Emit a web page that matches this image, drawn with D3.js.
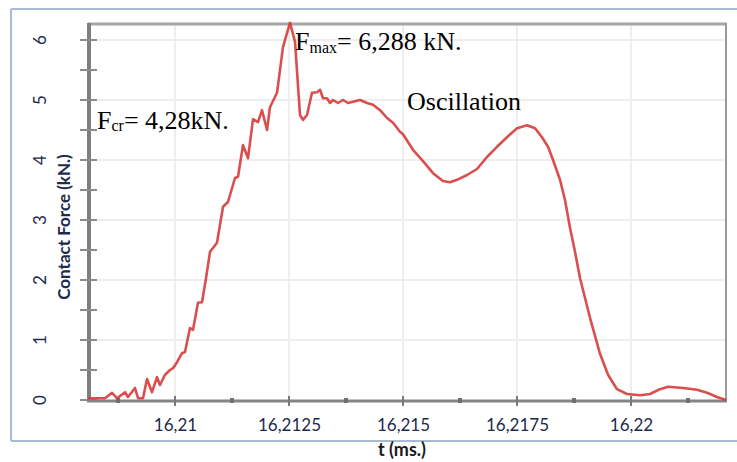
<!DOCTYPE html>
<html>
<head>
<meta charset="utf-8">
<script src="https://cdn.jsdelivr.net/npm/d3@7/dist/d3.min.js"></script>
<style>
  html, body { margin: 0; padding: 0; background: #ffffff; }
  svg { display: block; }
</style>
</head>
<body>
<svg id="chart" width="737" height="462"></svg>
<script>
// Contact force history during impact (time in ms, force in kN)
const timeMs = [
  16.208092, 16.208246, 16.208465, 16.208618, 16.208728, 16.208904, 16.208969, 16.209123,
  16.209189, 16.209298, 16.209386, 16.209496, 16.209605, 16.209671, 16.209781, 16.209890,
  16.209956, 16.210044, 16.210154, 16.210219, 16.210329, 16.210395, 16.210504, 16.210592,
  16.210680, 16.210768, 16.210921, 16.211053, 16.211162, 16.211316, 16.211382, 16.211491,
  16.211601, 16.211711, 16.211820, 16.211908, 16.212018, 16.212083, 16.212237, 16.212368,
  16.212522, 16.212632, 16.212741, 16.212807, 16.212895, 16.213004, 16.213114, 16.213180,
  16.213246, 16.213333, 16.213399, 16.213465, 16.213575, 16.213684, 16.213794, 16.213904,
  16.214057, 16.214211, 16.214342, 16.214496, 16.214649, 16.214781, 16.214934, 16.215000,
  16.215219, 16.215439, 16.215658, 16.215877, 16.216031, 16.216184, 16.216404, 16.216623,
  16.216842, 16.217061, 16.217281, 16.217500, 16.217719, 16.217895, 16.218048, 16.218180,
  16.218290, 16.218443, 16.218553, 16.218662, 16.218772, 16.218882, 16.219101, 16.219320,
  16.219496, 16.219693, 16.219912, 16.220197, 16.220417, 16.220636, 16.220811, 16.221140,
  16.221447, 16.221667, 16.221886, 16.222083
];
const forceKN = [
  0.03, 0.03, 0.03, 0.12, 0.03, 0.13, 0.05, 0.20,
  0.03, 0.03, 0.35, 0.13, 0.38, 0.25, 0.42, 0.50,
  0.53, 0.63, 0.78, 0.80, 1.20, 1.17, 1.62, 1.63,
  2.03, 2.47, 2.62, 3.22, 3.30, 3.70, 3.72, 4.25,
  4.03, 4.68, 4.63, 4.83, 4.50, 4.88, 5.12, 5.88,
  6.288, 5.97, 4.75, 4.67, 4.75, 5.12, 5.13, 5.17,
  5.03, 5.03, 4.95, 5.00, 4.95, 5.00, 4.95, 4.97,
  5.00, 4.95, 4.92, 4.83, 4.70, 4.62, 4.47, 4.43,
  4.17, 3.98, 3.78, 3.65, 3.63, 3.67, 3.75, 3.85,
  4.05, 4.22, 4.38, 4.53, 4.58, 4.53, 4.38, 4.22,
  4.00, 3.67, 3.33, 2.87, 2.47, 2.03, 1.37, 0.77,
  0.42, 0.18, 0.10, 0.08, 0.10, 0.18, 0.22, 0.20,
  0.17, 0.12, 0.05, 0.00
];

const xTickValues = [16.21, 16.2125, 16.215, 16.2175, 16.22];
const xTickLabels = ["16,21", "16,2125", "16,215", "16,2175", "16,22"];
const xMinorTicks = [16.20875, 16.21125, 16.21375, 16.21625, 16.21875, 16.22125];
const yTickValues = [0, 1, 2, 3, 4, 5, 6];
const yTickLabels = ["0", "1", "2", "3", "4", "5", "6"];
const yMinorTicks = [0.5, 1.5, 2.5, 3.5, 4.5, 5.5];

const xTitle = "t (ms.)";
const yTitle = "Contact Force (kN.)";
const peakForceText = "6,288 kN.";
const criticalForceText = "4,28kN.";
const oscillationText = "Oscillation";

const svg = d3.select("#chart");
const plot = { left: 88, right: 726, top: 25, bottom: 400 };
const sans = "Lato, 'Open Sans', sans-serif";
const labelColor = "#1d2b4c";

const x = d3.scaleLinear().domain([16.208092, 16.222083]).range([plot.left, plot.right]);
const y = d3.scaleLinear().domain([0, 6.25]).range([plot.bottom, plot.top]);

// outer frame (left, top, bottom edges)
const frame = svg.append("g").attr("fill", "none").attr("stroke", "#a9bbd3").attr("stroke-width", 2);
frame.append("line").attr("x1", 11).attr("x2", 11).attr("y1", 9).attr("y2", 441);
frame.append("line").attr("x1", 11).attr("x2", 737).attr("y1", 9).attr("y2", 9);
frame.append("line").attr("x1", 11).attr("x2", 737).attr("y1", 441).attr("y2", 441);

// gridlines
const grid = svg.append("g").attr("stroke", "#eeeeee").attr("stroke-width", 2);
grid.selectAll(".gy").data(yTickValues.filter(v => v > 0)).join("line")
  .attr("x1", plot.left).attr("x2", plot.right)
  .attr("y1", d => y(d)).attr("y2", d => y(d));
grid.selectAll(".gx").data(xTickValues).join("line")
  .attr("x1", d => x(d)).attr("x2", d => x(d))
  .attr("y1", plot.top).attr("y2", plot.bottom);

// plot box: top and right edges
svg.append("line").attr("x1", plot.left).attr("x2", plot.right + 1)
  .attr("y1", plot.top - 1).attr("y2", plot.top - 1)
  .attr("stroke", "#a6a6a6").attr("stroke-width", 3);
svg.append("line").attr("x1", plot.right).attr("x2", plot.right)
  .attr("y1", plot.top - 2).attr("y2", plot.bottom)
  .attr("stroke", "#9a9a9a").attr("stroke-width", 2);

// y axis
svg.append("line").attr("x1", plot.left + 1).attr("x2", plot.left + 1)
  .attr("y1", plot.top - 2).attr("y2", plot.bottom + 2)
  .attr("stroke", "#7f7f7f").attr("stroke-width", 4);
svg.append("g").selectAll("line").data(yTickValues.concat(yMinorTicks)).join("line")
  .attr("x1", plot.left - 8).attr("x2", plot.left + 9)
  .attr("y1", d => y(d)).attr("y2", d => y(d))
  .attr("stroke", "#8c8c8c").attr("stroke-width", 2);
svg.append("g").selectAll("text").data(yTickValues).join("text")
  .attr("transform", d => `translate(46,${y(d)}) rotate(-90)`)
  .attr("text-anchor", "middle")
  .attr("font-family", sans)
  .attr("font-size", 17)
  .attr("fill", labelColor)
  .text((d, i) => yTickLabels[i]);

// x axis
svg.append("line").attr("x1", plot.left - 1).attr("x2", plot.right + 1)
  .attr("y1", plot.bottom + 1).attr("y2", plot.bottom + 1)
  .attr("stroke", "#858585").attr("stroke-width", 3);
svg.append("g").selectAll("line").data(xTickValues).join("line")
  .attr("x1", d => x(d)).attr("x2", d => x(d))
  .attr("y1", plot.bottom - 4).attr("y2", plot.bottom + 6)
  .attr("stroke", "#7a7a7a").attr("stroke-width", 2);
svg.append("g").selectAll("rect").data(xMinorTicks).join("rect")
  .attr("x", d => x(d) - 2).attr("y", plot.bottom - 2)
  .attr("width", 4).attr("height", 5)
  .attr("fill", "#6f6f6f");
const gx = svg.append("g").attr("transform", `translate(0,${plot.bottom})`)
  .call(d3.axisBottom(x).tickValues(xTickValues).tickSize(0)
    .tickFormat((d, i) => xTickLabels[i]));
gx.select(".domain").remove();
gx.selectAll("text")
  .attr("dy", 0).attr("y", 31)
  .attr("font-family", sans)
  .attr("font-size", 17)
  .attr("fill", labelColor);

// axis titles
svg.append("text")
  .attr("transform", `translate(70,227) rotate(-90)`)
  .attr("text-anchor", "middle")
  .attr("font-family", sans)
  .attr("font-weight", "bold")
  .attr("font-size", 17)
  .attr("fill", labelColor)
  .text(yTitle);
svg.append("text")
  .attr("x", 402).attr("y", 456)
  .attr("text-anchor", "middle")
  .attr("font-family", sans)
  .attr("font-weight", "bold")
  .attr("font-size", 18)
  .attr("fill", "#1a1a1a")
  .text(xTitle);

// force curve
const line = d3.line().x((d, i) => x(timeMs[i])).y(d => y(d));
svg.append("path")
  .datum(forceKN)
  .attr("d", line)
  .attr("fill", "none")
  .attr("stroke", "#d63b3b")
  .attr("stroke-width", 2.6)
  .attr("stroke-linejoin", "round")
  .attr("stroke-opacity", 0.9);

// annotations
const serif = "'Liberation Serif', 'Times New Roman', serif";
const fmax = svg.append("text").attr("x", 295).attr("y", 50)
  .attr("font-family", serif).attr("font-size", 26).attr("fill", "#000");
fmax.append("tspan").text("F");
fmax.append("tspan").attr("font-size", 16).attr("dy", 3).text("max");
fmax.append("tspan").attr("dy", -3).text("= " + peakForceText);

const fcr = svg.append("text").attr("x", 97).attr("y", 129)
  .attr("font-family", serif).attr("font-size", 26).attr("fill", "#000");
fcr.append("tspan").text("F");
fcr.append("tspan").attr("font-size", 16).attr("dy", 2).text("cr");
fcr.append("tspan").attr("dy", -2).text("= " + criticalForceText);

svg.append("text").attr("x", 407).attr("y", 110)
  .attr("font-family", serif).attr("font-size", 26).attr("fill", "#000")
  .text(oscillationText);
</script>
</body>
</html>
